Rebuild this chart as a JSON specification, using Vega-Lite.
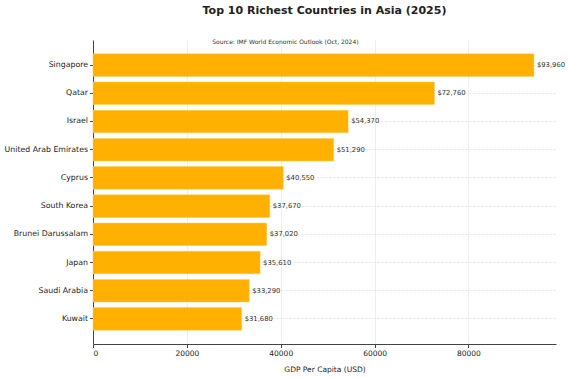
{
  "$schema": "https://vega.github.io/schema/vega-lite/v6.json",
  "width": 463,
  "height": 304,
  "autosize": {"type": "none"},
  "padding": {"left": 93, "top": 40, "right": 14, "bottom": 34},
  "background": "white",
  "config": {
    "font": "DejaVu Sans",
    "view": {"stroke": null},
    "axis": {
      "labelFont": "DejaVu Sans",
      "titleFont": "DejaVu Sans",
      "labelColor": "#222",
      "titleColor": "#222",
      "domainColor": "#444",
      "tickColor": "#444",
      "titleFontWeight": "normal"
    }
  },
  "title": {
    "text": "Top 10 Richest Countries in Asia (2025)",
    "font": "DejaVu Sans",
    "fontSize": 11,
    "fontWeight": "bold",
    "color": "#222",
    "anchor": "middle",
    "offset": 23
  },
  "data": {
    "values": [
      {"country": "Singapore", "gdp": 93960},
      {"country": "Qatar", "gdp": 72760},
      {"country": "Israel", "gdp": 54370},
      {"country": "United Arab Emirates", "gdp": 51290},
      {"country": "Cyprus", "gdp": 40550},
      {"country": "South Korea", "gdp": 37670},
      {"country": "Brunei Darussalam", "gdp": 37020},
      {"country": "Japan", "gdp": 35610},
      {"country": "Saudi Arabia", "gdp": 33290},
      {"country": "Kuwait", "gdp": 31680}
    ]
  },
  "encoding": {
    "y": {
      "field": "country",
      "type": "nominal",
      "sort": null,
      "scale": {"paddingInner": 0.2, "paddingOuter": 0.49},
      "axis": {
        "title": null,
        "labelFontSize": 7.8,
        "tickSize": 3.5,
        "labelPadding": 2,
        "grid": true,
        "gridColor": "#d4d4d4",
        "gridDash": [2, 2],
        "gridWidth": 0.6
      }
    },
    "x": {
      "field": "gdp",
      "type": "quantitative",
      "scale": {"domain": [0, 98658], "nice": false, "zero": true},
      "axis": {
        "title": "GDP Per Capita (USD)",
        "values": [0, 20000, 40000, 60000, 80000],
        "format": "d",
        "labelFontSize": 7.5,
        "titleFontSize": 7.5,
        "tickSize": 3.5,
        "labelPadding": 2,
        "titlePadding": 8,
        "grid": true,
        "gridColor": "#e2e2e2",
        "gridWidth": 0.6
      }
    }
  },
  "layer": [
    {
      "mark": {"type": "bar", "color": "#ffb000", "stroke": "#ffd050", "strokeWidth": 0.5}
    },
    {
      "mark": {"type": "text", "align": "left", "baseline": "middle", "dx": 3, "fontSize": 6.8, "color": "#333"},
      "encoding": {
        "text": {"field": "gdp", "type": "quantitative", "format": "$,.0f"}
      }
    },
    {
      "data": {"values": [{"note": "Source: IMF World Economic Outlook (Oct, 2024)", "pos": 41000, "anchorCountry": "Singapore"}]},
      "mark": {"type": "text", "align": "center", "baseline": "middle", "dy": -23, "fontSize": 6, "color": "#333"},
      "encoding": {
        "x": {"field": "pos", "type": "quantitative"},
        "y": {"field": "anchorCountry", "type": "nominal", "sort": null},
        "text": {"field": "note"}
      }
    }
  ]
}
